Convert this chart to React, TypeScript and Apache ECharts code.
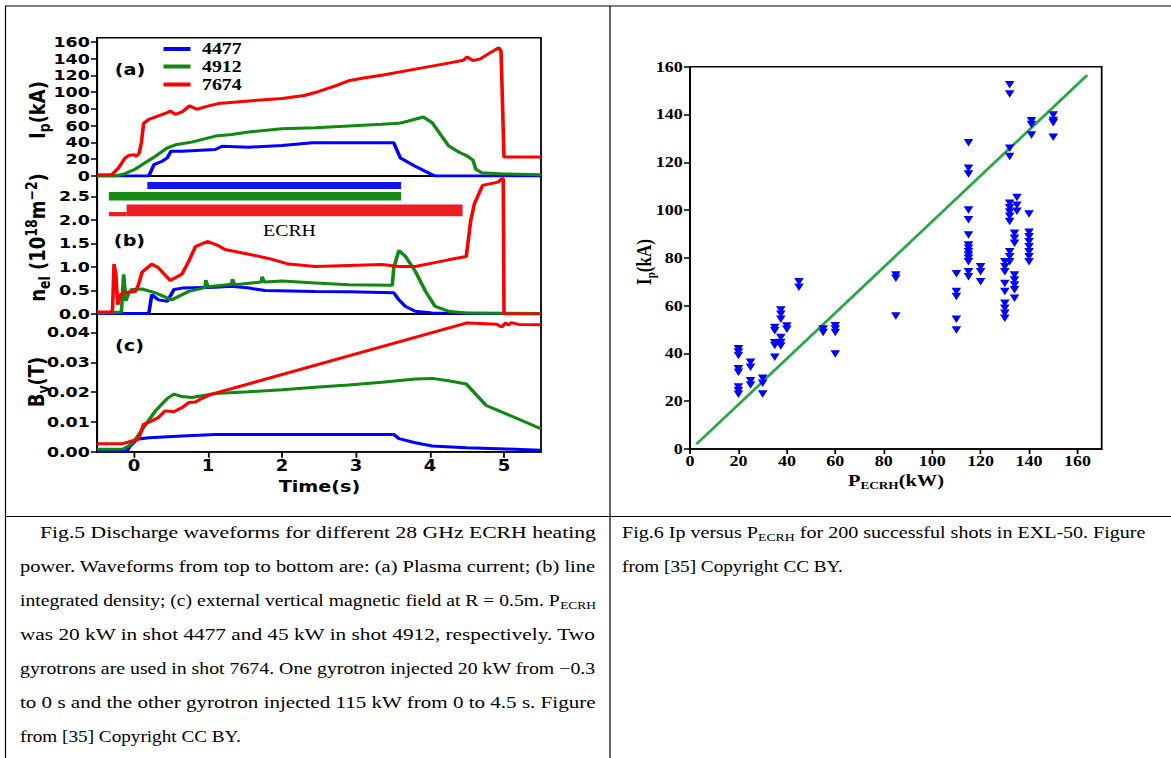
import React, { useEffect, useRef } from 'react';
import * as echarts from 'echarts';

// ---------------- page / stretch ----------------
const PAGE_W = 1171;
const PAGE_H = 758;
const SX = 1.2; // the reference page is stretched horizontally
const ux = (x: number) => x / SX;

const SANS = 'DejaVu Sans';
const SERIF = 'Liberation Serif';

// ---------------- data: Fig.5 ----------------
const shotNames = ['4477', '4912', '7674'];
const shotColors = ['#0000ff', '#118811', '#ff0000'];

const timeTicks = [0, 1, 2, 3, 4, 5];
const ipTicks = [0, 20, 40, 60, 80, 100, 120, 140, 160];
const neTicks = [0, 0.5, 1, 1.5, 2, 2.5];
const bvTicks = [0, 0.01, 0.02, 0.03, 0.04];

// (a) plasma current Ip (kA) vs time (s)
const ip4477 = [[-0.5, 0], [0.2, 0], [0.27, 13.6], [0.38, 17.6], [0.45, 21.6], [0.5, 29.6], [0.65, 29.6], [1.1, 31.6], [1.19, 35.6], [1.55, 34.4], [2.0, 36.4], [2.41, 39.6], [2.9, 39.6], [3.51, 39.6], [3.6, 21.6], [3.8, 11.6], [4.0, 2.8], [4.07, 0], [5.5, 0]];
const ip4912 = [[-0.5, 0], [-0.25, 0], [-0.12, 2.8], [0.02, 8.4], [0.11, 13.6], [0.29, 23.6], [0.45, 33.6], [0.58, 37.6], [0.78, 40.4], [1.1, 47.6], [1.32, 49.6], [1.55, 52.4], [2.0, 56.4], [2.45, 57.6], [2.9, 59.6], [3.35, 61.6], [3.58, 62.8], [3.71, 65.6], [3.91, 70.4], [4.03, 63.6], [4.25, 36], [4.4, 28], [4.5, 24], [4.58, 19], [4.62, 8], [4.7, 4], [5.0, 2.5], [5.5, 1.5]];
const ip7674 = [[-0.5, 1.5], [-0.3, 1.5], [-0.21, 9.6], [-0.12, 21.6], [-0.07, 24.4], [0.0, 25.5], [0.03, 23.5], [0.07, 27], [0.1, 40], [0.13, 62.8], [0.2, 67.6], [0.33, 71.6], [0.45, 75.5], [0.49, 77.6], [0.56, 73.6], [0.65, 76.4], [0.75, 83.6], [0.85, 79.6], [1.01, 83.6], [1.14, 86.4], [1.55, 89.6], [2.0, 92.4], [2.3, 96], [2.45, 99.6], [2.72, 107.6], [2.9, 113.6], [3.1, 117], [3.35, 120.3], [3.8, 127.5], [4.25, 134.7], [4.45, 138], [4.5, 142], [4.58, 137.7], [4.68, 139.7], [4.81, 146.9], [4.93, 152.9], [4.96, 148.9], [5.0, 22.8], [5.5, 22.8]];

// (b) line integrated density (1e18 m^-2)
const ne4477 = [[-0.5, 0.01], [0.2, 0.01], [0.24, 0.41], [0.33, 0.3], [0.45, 0.27], [0.54, 0.52], [0.65, 0.55], [1.1, 0.57], [1.32, 0.59], [1.55, 0.55], [1.77, 0.5], [2.45, 0.48], [2.9, 0.47], [3.51, 0.45], [3.58, 0.3], [3.67, 0.16], [3.8, 0.06], [4.03, 0.02], [5.5, 0.01]];
const ne4912 = [[-0.5, 0.02], [-0.17, 0.04], [-0.14, 0.84], [-0.11, 0.28], [-0.07, 0.45], [-0.03, 0.52], [0.11, 0.53], [0.29, 0.45], [0.51, 0.3], [0.74, 0.48], [0.96, 0.56], [0.97, 0.72], [1.0, 0.58], [1.32, 0.63], [1.33, 0.74], [1.36, 0.62], [1.72, 0.68], [1.73, 0.79], [1.76, 0.68], [2.0, 0.7], [2.45, 0.66], [2.9, 0.62], [3.49, 0.61], [3.51, 0.98], [3.58, 1.35], [3.67, 1.22], [3.8, 0.91], [3.94, 0.48], [4.07, 0.16], [4.25, 0.06], [4.49, 0.02], [5.5, 0.01]];
const ne7674 = [[-0.5, 0.04], [-0.31, 0.04], [-0.29, 0.09], [-0.27, 1.06], [-0.245, 0.84], [-0.22, 0.2], [-0.18, 0.41], [-0.14, 0.45], [0.02, 0.48], [0.06, 0.62], [0.11, 0.89], [0.24, 1.06], [0.33, 0.98], [0.49, 0.71], [0.65, 0.85], [0.74, 1.12], [0.83, 1.43], [0.99, 1.54], [1.14, 1.45], [1.23, 1.37], [1.55, 1.27], [1.82, 1.18], [2.09, 1.06], [2.45, 1.01], [2.9, 1.03], [3.35, 1.05], [3.58, 1.01], [3.8, 1.01], [4.03, 1.08], [4.25, 1.15], [4.49, 1.22], [4.52, 1.6], [4.55, 1.98], [4.6, 2.34], [4.71, 2.73], [4.92, 2.8], [4.97, 2.87], [4.99, 2.87], [5.0, 0], [5.5, 0]];

// ECRH heating windows shown in (b)
const ecrhShot = ['4477', '4912', '7674', '7674'];
const ecrhStart = [0.18, -0.34, -0.1, -0.34];
const ecrhEnd = [3.61, 3.61, 4.44, -0.1];
const ecrhLevel = [2.73, 2.5, 2.2, 2.12];

// (c) external vertical field Bv (T)
const bv4477 = [[-0.5, 0.0002], [-0.1, 0.0002], [-0.05, 0.0019], [0.04, 0.0042], [0.2, 0.0047], [0.65, 0.0053], [1.1, 0.0058], [3.51, 0.0058], [3.58, 0.0044], [3.8, 0.003], [4.03, 0.0019], [4.49, 0.0013], [5.03, 0.0009], [5.5, 0.0005]];
const bv4912 = [[-0.5, 0.0008], [-0.15, 0.0009], [-0.07, 0.0019], [0.02, 0.0042], [0.13, 0.0081], [0.29, 0.0137], [0.45, 0.0179], [0.54, 0.0193], [0.65, 0.0185], [0.78, 0.0182], [1.1, 0.0195], [1.55, 0.0201], [2.0, 0.0208], [2.45, 0.0216], [2.9, 0.0224], [3.35, 0.0233], [3.8, 0.0244], [4.03, 0.0246], [4.25, 0.0238], [4.49, 0.0227], [4.76, 0.0155], [5.03, 0.0127], [5.5, 0.0077]];
const bv7674 = [[-0.5, 0.0027], [-0.15, 0.0027], [-0.03, 0.0036], [0.06, 0.0042], [0.13, 0.0092], [0.24, 0.0103], [0.33, 0.0115], [0.42, 0.0137], [0.54, 0.0134], [0.65, 0.0148], [0.74, 0.0165], [0.83, 0.0167], [0.92, 0.0179], [1.05, 0.0193], [4.5, 0.0432], [4.6, 0.0431], [4.9, 0.0428], [4.97, 0.0418], [5.02, 0.0432], [5.06, 0.0425], [5.1, 0.0433], [5.2, 0.0427], [5.5, 0.0426]];

// ---------------- data: Fig.6 ----------------
const powerTicks = [0, 20, 40, 60, 80, 100, 120, 140, 160];
const currentTicks = [0, 20, 40, 60, 80, 100, 120, 140, 160];
const pEcrhLevels = [20, 25, 30, 35, 37.5, 40, 45, 55, 60, 85, 110, 115, 120, 130, 132, 134, 135, 140, 141, 150];
const ipAtLevel = [
  [42, 40.6, 39.1, 33.6, 32.1, 26, 24.4, 22.9],
  [36.3, 34.2, 28.6, 26.8],
  [29.6, 27.5, 23],
  [50.8, 49.5, 44.5, 43.3, 38.4],
  [58.2, 56.4, 54.3, 46.7, 44.6, 43.1],
  [51.5, 50.1],
  [70, 67.7],
  [50.2, 48.8],
  [51.6, 50.2, 48.8, 39.8],
  [72.8, 71.5, 55.7],
  [73.3, 65.9, 63.8, 54.3, 49.8],
  [128.2, 117.5, 115.1, 100, 95.9, 89.6, 85.4, 84, 82.6, 81.2, 79.8, 78.4, 74.2, 72.1],
  [76.3, 74.2, 70],
  [78.4, 76.3, 74.2, 69.3, 65.9, 61, 58.9, 56.8, 54.7],
  [152.4, 148.6, 125.9, 122.4, 102.8, 101, 99.2, 97.4, 95.2, 82.6, 80.5, 78.4],
  [90.3, 88.2, 86.1, 72.8, 70.7, 68.6, 66.6, 63.1],
  [105.3, 102, 99.5],
  [98.4, 90.7, 88.8, 86.7, 84.6, 82.6, 80.5, 78.4],
  [137.4, 135.8, 131.4],
  [139.8, 137.5, 136.5, 130.5],
];
const fitLine = [[2.6, 2], [164, 156.5]];

// ---------------- captions ----------------
const leftCaption = [
  'Fig.5 Discharge waveforms for different 28 GHz ECRH heating',
  'power. Waveforms from top to bottom are: (a) Plasma current; (b) line',
  'integrated density; (c) external vertical magnetic field at R = 0.5m. P~ECRH~',
  'was 20 kW in shot 4477 and 45 kW in shot 4912, respectively. Two',
  'gyrotrons are used in shot 7674. One gyrotron injected 20 kW from \u22120.3',
  'to 0 s and the other gyrotron injected 115 kW from 0 to 4.5 s. Figure',
  'from [35] Copyright CC BY.',
];
const rightCaption = [
  'Fig.6 Ip versus P~ECRH~ for 200 successful shots in EXL-50. Figure',
  'from [35] Copyright CC BY.',
];

// ---------------- helpers ----------------
const CAP_SIZE = 16;
const CAP_SUB = 11;
let measureCtx: CanvasRenderingContext2D | null = null;
function measure(text: string, size: number): number {
  if (!measureCtx) measureCtx = document.createElement('canvas').getContext('2d');
  if (!measureCtx) return text.length * size * 0.45;
  measureCtx.font = `${size}px "Liberation Serif"`;
  return measureCtx.measureText(text).width;
}

function captionLine(line: string, x0: number, x1: number | null, y: number) {
  const parts = line.split('~');
  let rich = '';
  let natural = 0;
  parts.forEach((p, i) => {
    if (!p) return;
    if (i % 2 === 1) {
      rich += `{s|${p}}`;
      natural += measure(p, CAP_SUB);
    } else {
      rich += `{n|${p}}`;
      natural += measure(p, CAP_SIZE);
    }
  });
  let scaleX = 1;
  if (x1 !== null && natural > 0) {
    scaleX = (ux(x1) - ux(x0)) / natural;
    scaleX = Math.max(0.85, Math.min(1.2, scaleX));
  }
  return {
    type: 'text',
    x: ux(x0),
    y,
    scaleX,
    silent: true,
    z: 100,
    style: {
      text: rich,
      align: 'left',
      verticalAlign: 'middle',
      textAlign: 'left',
      textVerticalAlign: 'middle',
      rich: {
        n: { fontSize: CAP_SIZE, fontFamily: SERIF, fill: '#000', lineHeight: 20 },
        s: { fontSize: CAP_SUB, fontFamily: SERIF, fill: '#000', lineHeight: 12, verticalAlign: 'bottom' },
      },
    },
  };
}

function label(x: number, y: number, text: string, style: any, rotation = 0) {
  return {
    type: 'text',
    x,
    y,
    rotation,
    silent: true,
    z: 100,
    style: {
      text,
      fill: '#000',
      align: 'center',
      verticalAlign: 'middle',
      textAlign: 'center',
      textVerticalAlign: 'middle',
      ...style,
    },
  };
}

function buildOption() {
  const gridBase = { show: true, borderColor: '#000', borderWidth: 1.5, backgroundColor: 'rgba(0,0,0,0)', containLabel: false, outerBoundsMode: 'none' };
  const L = ux(97);
  const PW = ux(541) - ux(97);
  const grid = [
    { ...gridBase, left: L, width: PW, top: 37.7, height: 138.3 },
    { ...gridBase, left: L, width: PW, top: 176, height: 138 },
    { ...gridBase, left: L, width: PW, top: 314, height: 137.7 },
    { ...gridBase, left: ux(690), width: ux(1101.7) - ux(690), top: 66.7, height: 382.3 },
  ];

  const axisLine = { show: true, onZero: false, lineStyle: { color: '#000', width: 1.5 } };
  const sansLabel = { color: '#000', fontFamily: SANS, fontWeight: 'bold', fontSize: 14.5 };
  const serifLabel = { color: '#000', fontFamily: SERIF, fontWeight: 'bold', fontSize: 15 };

  const timeAxis = (gridIndex: number, labels: boolean) => ({
    type: 'value', gridIndex, min: -0.5, max: 5.5,
    axisLine,
    axisTick: { show: labels, inside: false, length: 6, customValues: timeTicks, lineStyle: { color: '#000', width: 1.5 } },
    axisLabel: { show: labels, customValues: timeTicks, margin: 7, ...sansLabel, fontSize: 15 },
    splitLine: { show: false },
  });
  const valAxis = (gridIndex: number, max: number, ticks: number[], digits: number) => ({
    type: 'value', gridIndex, min: 0, max,
    axisLine,
    axisTick: { show: true, inside: false, length: 5, customValues: ticks, lineStyle: { color: '#000', width: 1.5 } },
    axisLabel: { show: true, customValues: ticks, margin: 6, formatter: (v: number) => v.toFixed(digits), ...sansLabel },
    splitLine: { show: false },
  });

  const xAxis = [
    timeAxis(0, false),
    timeAxis(1, false),
    timeAxis(2, true),
    {
      type: 'value', gridIndex: 3, min: 0, max: 170,
      axisLine,
      axisTick: { show: true, inside: false, length: 5, customValues: powerTicks, lineStyle: { color: '#000', width: 1.5 } },
      axisLabel: { show: true, customValues: powerTicks, margin: 5, ...serifLabel },
      splitLine: { show: false },
    },
  ];
  const yAxis = [
    valAxis(0, 165, ipTicks, 0),
    valAxis(1, 2.93, neTicks, 1),
    valAxis(2, 0.0462, bvTicks, 2),
    {
      type: 'value', gridIndex: 3, min: 0, max: 160,
      axisLine,
      axisTick: { show: true, inside: false, length: 5, customValues: currentTicks, lineStyle: { color: '#000', width: 1.5 } },
      axisLabel: { show: true, customValues: currentTicks, margin: 6, ...serifLabel },
      splitLine: { show: false },
    },
  ];

  const curve = (name: string, data: number[][], color: string, idx: number) => ({
    type: 'line', name, data, xAxisIndex: idx, yAxisIndex: idx,
    showSymbol: false, symbol: 'none', silent: true, clip: true,
    lineStyle: { color, width: 3 }, itemStyle: { color },
  });

  const ecrhColors = ['#1414f0', '#168a16', '#ec1c24', '#ec1c24'];
  const ecrhWidths = [7, 8.7, 11.7, 4.4];
  const ecrhSeries = ecrhShot.map((shot, i) => ({
    type: 'line', name: 'ECRH ' + shot,
    data: [[ecrhStart[i], ecrhLevel[i]], [ecrhEnd[i], ecrhLevel[i]]],
    xAxisIndex: 1, yAxisIndex: 1, symbol: 'none', showSymbol: false, silent: true,
    lineStyle: { color: ecrhColors[i], width: ecrhWidths[i], cap: 'butt' },
    itemStyle: { color: ecrhColors[i] },
  }));

  const scatterData: number[][] = [];
  pEcrhLevels.forEach((p, i) => ipAtLevel[i].forEach((ip) => scatterData.push([p, ip])));

  const series: any[] = [
    curve(shotNames[0], ip4477, shotColors[0], 0),
    curve(shotNames[1], ip4912, shotColors[1], 0),
    curve(shotNames[2], ip7674, shotColors[2], 0),
    ...ecrhSeries,
    curve(shotNames[0], ne4477, shotColors[0], 1),
    curve(shotNames[1], ne4912, shotColors[1], 1),
    curve(shotNames[2], ne7674, shotColors[2], 1),
    curve(shotNames[0], bv4477, shotColors[0], 2),
    curve(shotNames[1], bv4912, shotColors[1], 2),
    curve(shotNames[2], bv7674, shotColors[2], 2),
    {
      type: 'line', name: 'fit', data: fitLine, xAxisIndex: 3, yAxisIndex: 3,
      symbol: 'none', showSymbol: false, silent: true,
      lineStyle: { color: '#27a844', width: 2.5 }, z: 2,
    },
    {
      type: 'scatter', name: 'shots', data: scatterData, xAxisIndex: 3, yAxisIndex: 3,
      symbol: 'path://M0,0L10,0L5,9Z', symbolSize: [8, 7.5], silent: true,
      itemStyle: { color: '#0000ff', opacity: 1 }, z: 3,
    },
  ];

  // ---------- graphics ----------
  const els: any[] = [];
  const hline = (y: number, x0: number, x1: number) => ({ type: 'line', silent: true, z: 50, shape: { x1: ux(x0), y1: y, x2: ux(x1), y2: y }, style: { stroke: '#000', lineWidth: 1.2 } });
  const vline = (x: number, y0: number, y1: number) => ({ type: 'line', silent: true, z: 50, shape: { x1: ux(x), y1: y0, x2: ux(x), y2: y1 }, style: { stroke: '#000', lineWidth: 1 } });
  els.push(hline(6, 5, PAGE_W), hline(516.5, 5, PAGE_W), vline(5.5, 6, PAGE_H), vline(610, 6, PAGE_H));

  // legend of Fig.5
  const legendY = [49, 66.5, 84.5];
  shotNames.forEach((name, i) => {
    els.push({ type: 'line', silent: true, z: 100, shape: { x1: ux(163.5), y1: legendY[i], x2: ux(190.5), y2: legendY[i] }, style: { stroke: shotColors[i], lineWidth: 4 } });
    els.push(label(ux(202), legendY[i], name, { fontFamily: SERIF, fontWeight: 'bold', fontSize: 16.5, align: 'left', textAlign: 'left' }));
  });

  // panel tags
  const tag = { fontFamily: SANS, fontWeight: 'bold', fontSize: 16 };
  els.push(label(ux(130), 69.5, '(a)', tag));
  els.push(label(ux(129.5), 240.5, '(b)', tag));
  els.push(label(ux(129.5), 345.3, '(c)', tag));
  els.push(label(ux(289.5), 230.7, 'ECRH', { fontFamily: SERIF, fontSize: 16.5 }));

  // axis titles, Fig.5
  const mS = { fontFamily: SANS, fontWeight: 'bold', fontSize: 18, fill: '#000', lineHeight: 24 };
  const sS = { fontFamily: SANS, fontWeight: 'bold', fontSize: 12.5, fill: '#000', lineHeight: 12, verticalAlign: 'bottom' };
  const pS = { fontFamily: SANS, fontWeight: 'bold', fontSize: 12.5, fill: '#000', lineHeight: 12, verticalAlign: 'top' };
  els.push(label(ux(38), 110, '{m|I}{s|p}{m|(kA)}', { rich: { m: mS, s: sS } }, Math.PI / 2));
  els.push(label(ux(38), 237.5, '{m|n}{s|el}{m| (10}{p|18}{m|m}{p|\u22122}{m|)}', { rich: { m: mS, s: sS, p: pS } }, Math.PI / 2));
  els.push(label(ux(37), 382, '{m|B}{s|v}{m|(T)}', { rich: { m: mS, s: sS } }, Math.PI / 2));
  els.push(label(ux(319.5), 486.5, 'Time(s)', { fontFamily: SANS, fontWeight: 'bold', fontSize: 16 }));

  // axis titles, Fig.6
  const mR = { fontFamily: SERIF, fontWeight: 'bold', fontSize: 17, fill: '#000', lineHeight: 22 };
  const sR = { fontFamily: SERIF, fontWeight: 'bold', fontSize: 11, fill: '#000', lineHeight: 11, verticalAlign: 'bottom' };
  els.push(label(ux(644), 262, '{m|I}{s|p}{m|(kA)}', { rich: { m: mR, s: sR } }, Math.PI / 2));
  els.push(label(ux(896), 480, '{m|P}{s|ECRH}{m|(kW)}', { rich: { m: mR, s: sR } }));

  // captions
  const capTop = 532.5;
  const capStep = 34;
  leftCaption.forEach((line, i) => {
    const last = i === leftCaption.length - 1;
    els.push(captionLine(line, i === 0 ? 40 : 20, last ? null : 596, capTop + capStep * i));
  });
  rightCaption.forEach((line, i) => {
    const last = i === rightCaption.length - 1;
    els.push(captionLine(line, 622, last ? null : 1146, capTop + capStep * i));
  });

  return {
    animation: false,
    backgroundColor: '#ffffff',
    grid,
    xAxis,
    yAxis,
    series,
    graphic: { elements: els },
  };
}

export default function App() {
  const ref = useRef<HTMLDivElement>(null);
  useEffect(() => {
    document.body.style.margin = '0';
    document.body.style.overflow = 'hidden';
    if (!ref.current) return;
    const chart = echarts.init(ref.current, undefined, { renderer: 'svg' });
    chart.setOption(buildOption() as any);
    return () => chart.dispose();
  }, []);
  return (
    <div
      ref={ref}
      style={{
        position: 'absolute',
        left: 0,
        top: 0,
        width: PAGE_W / SX,
        height: PAGE_H,
        transform: `scaleX(${SX})`,
        transformOrigin: '0 0',
        background: '#fff',
      }}
    />
  );
}
